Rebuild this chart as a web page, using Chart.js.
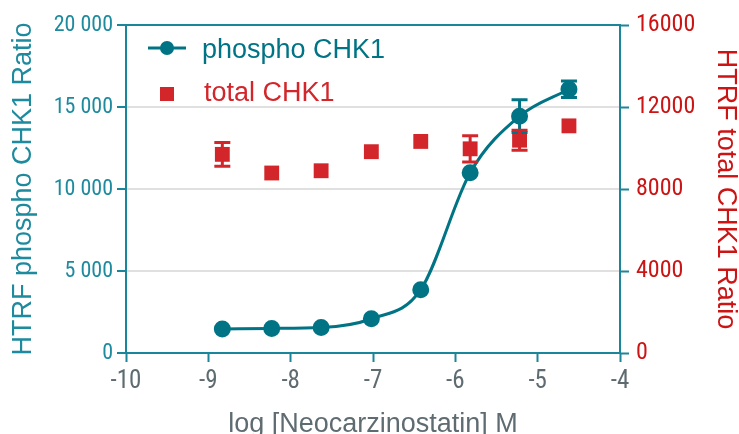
<!DOCTYPE html>
<html lang="en">
<head>
<meta charset="UTF-8">
<title>phospho / total CHK1 - Neocarzinostatin</title>
<script src="https://cdn.jsdelivr.net/npm/chart.js"></script>
<style>
  html, body { margin: 0; padding: 0; background: #fff; }
  #wrap { width: 739px; height: 434px; }
</style>
</head>
<body>
<div id="wrap"><canvas id="chart" width="739" height="434"></canvas></div>
<script>
// dose points, log [M]
const logConc = [-8.83, -8.23, -7.63, -7.02, -6.42, -5.82, -5.22, -4.62];

// HTRF ratios with SD (0 = no bar shown)
const phospho    = [1470, 1500, 1550, 2090, 3860, 10990, 14440, 16080];
const phosphoErr = [0, 0, 0, 0, 0, 0, 1000, 500];
const total      = [9690, 8780, 8890, 9820, 10320, 9960, 10380, 11080];
const totalErr   = [580, 0, 0, 0, 0, 640, 490, 0];

// axis ticks
const xTicks = [-10, -9, -8, -7, -6, -5, -4];
const xTickLabels = ['-10', '-9', '-8', '-7', '-6', '-5', '-4'];
const phosphoTicks = [0, 5000, 10000, 15000, 20000];
const phosphoTickLabels = ['0', '5 000', '10 000', '15 000', '20 000'];
const totalTicks = [0, 4000, 8000, 12000, 16000];
const totalTickLabels = ['0', '4000', '8000', '12000', '16000'];

const TEAL = '#007485';
const AXIS = '#1b8599';
const TEAL_TEXT = '#1d8a9e';
const RED = '#d3262b';
const RED_TEXT = '#cc1414';
const GREY_TEXT = '#5e6c71';
const GRID = '#e0e0e0';
const NARROW = "'Liberation Sans Narrow', 'Roboto Condensed', Roboto, sans-serif";
const SANS = "'Liberation Sans', Arial, sans-serif";

const toPoints = (ys) => ys.map((y, i) => ({ x: logConc[i], y: y }));

// vertical SD bars with caps
const errorBars = {
  id: 'errorBars',
  afterDatasetsDraw(chart) {
    const ctx = chart.ctx;
    chart.data.datasets.forEach((ds, i) => {
      if (!ds.errors) return;
      const xs = chart.scales.x;
      const ys = chart.scales[ds.yAxisID];
      ctx.save();
      ctx.strokeStyle = ds.borderColor;
      ctx.lineWidth = 3;
      ds.data.forEach((p, j) => {
        const e = ds.errors[j];
        if (!e) return;
        const x = xs.getPixelForValue(p.x);
        const yTop = ys.getPixelForValue(p.y + e);
        const yBot = ys.getPixelForValue(p.y - e);
        ctx.beginPath();
        ctx.moveTo(x, yTop); ctx.lineTo(x, yBot);
        ctx.moveTo(x - 8, yTop); ctx.lineTo(x + 8, yTop);
        ctx.moveTo(x - 8, yBot); ctx.lineTo(x + 8, yBot);
        ctx.stroke();
      });
      ctx.restore();
    });
  }
};

// legend sits inside the plot, top left
const innerLegend = {
  id: 'innerLegend',
  afterDraw(chart) {
    const ctx = chart.ctx;
    ctx.save();
    ctx.font = '27px ' + SANS;
    ctx.textBaseline = 'alphabetic';

    ctx.strokeStyle = TEAL;
    ctx.lineWidth = 3;
    ctx.beginPath(); ctx.moveTo(148, 48); ctx.lineTo(186, 48); ctx.stroke();
    ctx.fillStyle = TEAL;
    ctx.beginPath(); ctx.arc(167, 48, 7, 0, Math.PI * 2); ctx.fill();
    ctx.fillText(chart.data.datasets[0].label, 202, 58);

    ctx.fillStyle = RED;
    ctx.fillRect(160, 87, 14, 14);
    ctx.fillText(chart.data.datasets[1].label, 204, 101);
    ctx.restore();
  }
};

new Chart(document.getElementById('chart'), {
  type: 'scatter',
  data: {
    datasets: [
      {
        label: 'phospho CHK1',
        data: toPoints(phospho),
        errors: phosphoErr,
        yAxisID: 'y',
        showLine: true,
        cubicInterpolationMode: 'monotone',
        borderColor: TEAL,
        backgroundColor: TEAL,
        borderWidth: 3,
        pointRadius: 7,
        pointHoverRadius: 7
      },
      {
        label: 'total CHK1',
        data: toPoints(total),
        errors: totalErr,
        yAxisID: 'y2',
        showLine: false,
        pointStyle: 'rect',
        borderColor: RED,
        backgroundColor: RED,
        borderWidth: 0,
        pointRadius: 10.5,
        pointHoverRadius: 10.5
      }
    ]
  },
  options: {
    responsive: false,
    animation: false,
    layout: { padding: { top: 25, left: 0, right: 0, bottom: 0 } },
    plugins: { legend: { display: false }, tooltip: { enabled: false } },
    scales: {
      x: {
        type: 'linear',
        min: -10, max: -4,
        afterFit: (s) => { s.height = 81; },
        afterBuildTicks: (s) => { s.ticks = xTicks.map(v => ({ value: v })); },
        grid: { drawOnChartArea: false, tickLength: 9, tickColor: AXIS, tickWidth: 2 },
        border: { color: AXIS, width: 2 },
        ticks: {
          color: GREY_TEXT, padding: 5,
          font: { family: NARROW, size: 25 },
          callback: (v) => xTickLabels[xTicks.indexOf(v)]
        },
        title: {
          display: true, text: 'log [Neocarzinostatin] M', color: GREY_TEXT,
          font: { family: SANS, size: 27, lineHeight: 1 }, padding: { top: 0, bottom: -4 }
        }
      },
      y: {
        position: 'left',
        min: 0, max: 20000,
        afterFit: (s) => { s.width = 126; },
        afterBuildTicks: (s) => { s.ticks = phosphoTicks.map(v => ({ value: v })); },
        grid: {
          color: (c) => (c.tick && c.tick.value === 20000 ? AXIS : GRID),
          lineWidth: 2, tickLength: 9, tickColor: AXIS, tickWidth: 2
        },
        border: { color: AXIS, width: 2 },
        ticks: {
          color: TEAL_TEXT, padding: 4,
          font: { family: NARROW, size: 22 },
          callback: (v) => phosphoTickLabels[phosphoTicks.indexOf(v)]
        },
        title: {
          display: true, text: 'HTRF phospho CHK1 Ratio', color: TEAL_TEXT,
          font: { family: SANS, size: 27, lineHeight: 1 }, padding: { top: 10, bottom: 0 }
        }
      },
      y2: {
        position: 'right',
        min: 0, max: 16000,
        afterFit: (s) => { s.width = 119; },
        afterBuildTicks: (s) => { s.ticks = totalTicks.map(v => ({ value: v })); },
        grid: { drawOnChartArea: false, tickLength: 9, tickColor: AXIS, tickWidth: 2 },
        border: { color: AXIS, width: 2 },
        ticks: {
          color: RED_TEXT, padding: 7,
          font: { family: NARROW, size: 24 },
          callback: (v) => totalTickLabels[totalTicks.indexOf(v)]
        },
        title: {
          display: true, text: 'HTRF total CHK1 Ratio', color: RED_TEXT,
          font: { family: SANS, size: 27, lineHeight: 1 }, padding: { top: 0, bottom: 0 }
        }
      }
    }
  },
  plugins: [errorBars, innerLegend]
});
</script>
</body>
</html>
